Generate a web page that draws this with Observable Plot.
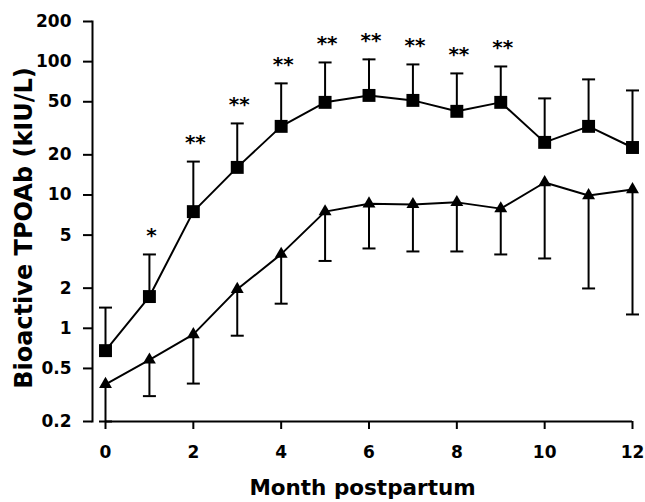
<!DOCTYPE html>
<html>
<head>
<meta charset="utf-8">
<script src="https://cdn.jsdelivr.net/npm/d3@7"></script>
<script src="https://cdn.jsdelivr.net/npm/@observablehq/plot@0.6"></script>
<style>
  body { margin: 0; background: #fff; }
</style>
</head>
<body>
<div id="chart"></div>
<script>
// Months postpartum
const months = [0, 1, 2, 3, 4, 5, 6, 7, 8, 9, 10, 11, 12];
// Square series (mean and upper error bar)
const squareMean  = [0.68, 1.73, 7.5, 16.1, 32.7, 49.5, 55.8, 51.2, 42.4, 49.5, 24.8, 32.7, 22.7];
const squareUpper = [1.43, 3.58, 17.8, 34.4, 68.7, 98.6, 104, 95.3, 81.6, 92, 53, 73.6, 60.8];
// Triangle series (mean and lower error bar)
const triMean  = [0.38, 0.58, 0.9, 1.96, 3.6, 7.5, 8.6, 8.5, 8.8, 7.9, 12.4, 9.9, 11.0];
const triLower = [0.2, 0.31, 0.385, 0.88, 1.53, 3.2, 3.97, 3.77, 3.77, 3.58, 3.34, 1.99, 1.27];
// Significance markers
const stars = ["", "*", "**", "**", "**", "**", "**", "**", "**", "**", "", "", ""];
// Axis ticks
const yTicks = [0.2, 0.5, 1, 2, 5, 10, 20, 50, 100, 200];
const yTickLabels = ["0.2", "0.5", "1", "2", "5", "10", "20", "50", "100", "200"];
const xTicks = [0, 2, 4, 6, 8, 10, 12];
const xTitle = "Month postpartum";
const yTitle = "Bioactive TPOAb (kIU/L)";

const sq = months.map((m, i) => ({month: m, mean: squareMean[i], upper: squareUpper[i], star: stars[i]}));
const tri = months.map((m, i) => ({month: m, mean: triMean[i], lower: triLower[i]}));
const sig = sq.filter(d => d.star);
const yLab = yTicks.map((v, i) => ({v, label: yTickLabels[i]}));

const capSymbol = {
  draw(context) { context.moveTo(-6.5, 0); context.lineTo(6.5, 0); }
};

const chart = Plot.plot({
  width: 645,
  height: 502,
  marginLeft: 92,
  marginRight: 13,
  marginTop: 21,
  marginBottom: 81,
  style: {fontFamily: "DejaVu Sans", fontSize: "17px", fontWeight: "bold", background: "white", color: "black"},
  x: {domain: [0, 12], insetLeft: 13},
  y: {type: "log", domain: [0.2, 200]},
  marks: [
    Plot.frame({anchor: "left", strokeWidth: 2}),
    Plot.ruleY([0.2], {x1: d3.min(months), x2: d3.max(months), strokeWidth: 2}),
    Plot.axisY(yTicks, {tickSize: 9, strokeWidth: 2, tickFormat: () => "", label: null}),
    Plot.text(yLab, {y: "v", text: "label", frameAnchor: "left", textAnchor: "end", dx: -21, fontSize: 17, fontWeight: "bold"}),
    Plot.axisX(xTicks, {tickSize: 8, tickPadding: 16, strokeWidth: 2, tickFormat: d => String(d), label: null}),
    // error bars
    Plot.ruleX(sq, {x: "month", y1: "mean", y2: "upper", strokeWidth: 2}),
    Plot.dot(sq, {x: "month", y: "upper", symbol: capSymbol, fill: "none", stroke: "black", strokeWidth: 2, r: 4}),
    Plot.ruleX(tri, {x: "month", y1: "mean", y2: "lower", strokeWidth: 2}),
    Plot.dot(tri, {x: "month", y: "lower", symbol: capSymbol, fill: "none", stroke: "black", strokeWidth: 2, r: 4}),
    // lines
    Plot.line(sq, {x: "month", y: "mean", strokeWidth: 2, stroke: "black"}),
    Plot.line(tri, {x: "month", y: "mean", strokeWidth: 2, stroke: "black"}),
    // markers
    Plot.dot(sq, {x: "month", y: "mean", symbol: "square", fill: "black", stroke: "none", r: 7.3}),
    Plot.dot(tri, {x: "month", y: "mean", symbol: "triangle", fill: "black", stroke: "none", r: 4.8}),
    // significance stars
    Plot.text(sig, {x: "month", y: "upper", text: "star", dy: -19, dx: 2, fontSize: 20, fontWeight: "bold", style: "letter-spacing: 4px"}),
    // axis titles
    Plot.text([xTitle], {frameAnchor: "bottom", textAnchor: "middle", lineAnchor: "middle", dy: 67, fontSize: 21.5, fontWeight: "bold"}),
    Plot.text([yTitle], {frameAnchor: "left", textAnchor: "middle", lineAnchor: "middle", rotate: -90, dx: -68, dy: 6.5, fontSize: 24, fontWeight: "bold"})
  ]
});
document.getElementById("chart").append(chart);
</script>
</body>
</html>
